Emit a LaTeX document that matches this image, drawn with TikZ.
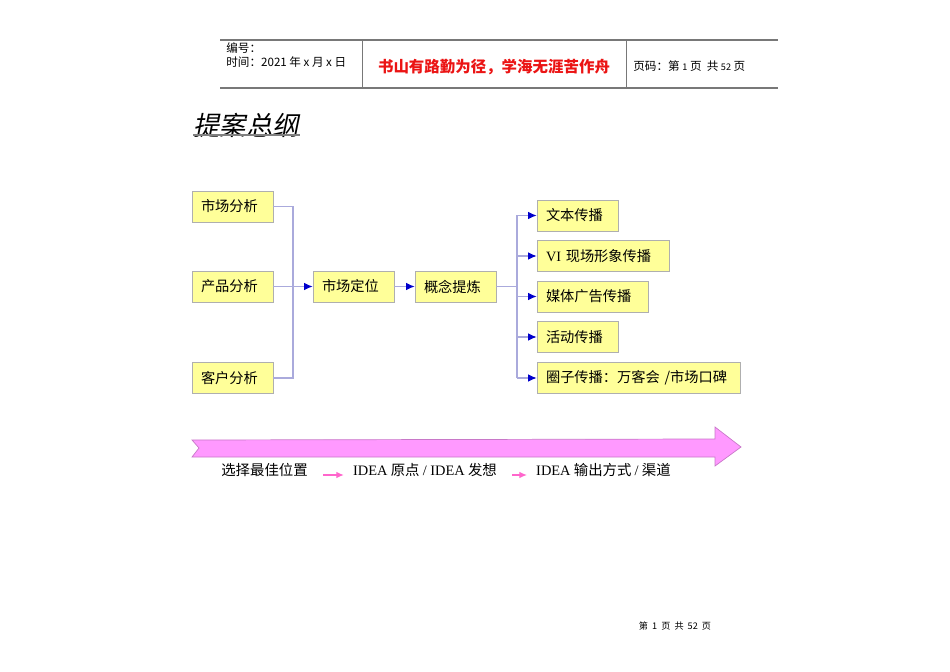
\documentclass[tikz,border=0pt]{standalone}
\usepackage{fontspec}
\setmainfont{Liberation Serif}
\newfontfamily\cjk{Noto Sans CJK SC}
\newfontfamily\cjkslant[FakeSlant=0.2]{Noto Sans CJK SC}
\usetikzlibrary{arrows.meta, calc}
\definecolor{boxyellow}{RGB}{255,255,153}
\definecolor{boxgray}{RGB}{175,175,175}
\definecolor{linklav}{RGB}{170,170,220}
\definecolor{tipblue}{RGB}{0,0,204}
\definecolor{bandpink}{RGB}{255,153,255}
\definecolor{bandedge}{RGB}{200,120,200}
\definecolor{smallpink}{RGB}{255,102,204}
\definecolor{hdrgray}{RGB}{120,120,120}
\definecolor{mottored}{RGB}{235,20,20}
\tikzset{>={Latex[length=1.7mm,width=1.5mm,color=tipblue]}}

\begin{document}
\begin{tikzpicture}[x=0.02cm, y=-0.02cm,
  box/.style={draw=boxgray, fill=boxyellow, minimum height=0.62cm, inner xsep=0.18cm,
    inner ysep=0pt, align=left, font=\cjk\fontsize{8.1pt}{10pt}\selectfont},
  link/.style={draw=linklav, line width=0.6pt},
  hdr/.style={anchor=west, inner sep=0pt, font=\cjk\fontsize{6.6pt}{8pt}\selectfont},
  flow/.style={inner sep=0pt, font=\cjk\fontsize{8.2pt}{10pt}\selectfont}]
\useasboundingbox (0,0) rectangle (950,672);

% header table
\draw[hdrgray, line width=0.7pt] (220,40) -- (778,40);
\draw[hdrgray, line width=0.7pt] (220,88) -- (778,88);
\draw[hdrgray, line width=0.4pt] (362,40) -- (362,88);
\draw[hdrgray, line width=0.4pt] (626,40) -- (626,88);
\node[hdr] (num) at (226,48) {编号：};
\node[hdr] (time) at (226,62) {时间：2021 年 x 月 x 日};
\node[font=\cjk\bfseries\fontsize{8.8pt}{10pt}\selectfont, text=mottored, inner sep=0pt] (motto) at (494,67) {书山有路勤为径，学海无涯苦作舟};
\node[hdr] (page) at (633,66) {页码：第 {\fontsize{5.2pt}{6pt}\selectfont 1} 页 \ 共 {\fontsize{5.2pt}{6pt}\selectfont 52} 页};

% title
\node[inner sep=0pt, font=\cjkslant\fontsize{15pt}{18pt}\selectfont] (title) at (246,125) {提案总纲};
\draw[gray, line width=0.6pt] (193,135) -- (300,135);

% analysis boxes
\node[box, text width=1.26cm] (ma) at (232.5,206.5) {市场分析};
\node[box, text width=1.26cm] (pa) at (232.5,286.5) {产品分析};
\node[box, text width=1.26cm] (ca) at (232.5,378) {客户分析};
\node[box, text width=1.26cm] (sd) at (353.5,286.5) {市场定位};
\node[box, text width=1.26cm] (gn) at (455.5,286.5) {概念提炼};

% channels
\node[box, text width=1.26cm] (c1) at (577.5,215.5) {文本传播};
\node[box, text width=2.28cm] (c2) at (603,256) {{\rmfamily VI} 现场形象传播};
\node[box, text width=1.86cm] (c3) at (592.5,296.5) {媒体广告传播};
\node[box, text width=1.26cm] (c4) at (577.5,337) {活动传播};
\node[box, text width=3.70cm] (c5) at (638.5,378) {圈子传播：万客会 /市场口碑};

% connectors
\coordinate (j1) at (293,286.5);
\draw[link] (ma.east) -| (j1) |- (ca.east);
\draw[link, ->] (pa.east) -- (sd.west);
\draw[link, ->] (sd.east) -- (gn.west);
\coordinate (j2) at (517,286.5);
\draw[link] (gn.east) -- (j2);
\draw[link] (j2 |- c1.west) -- (j2 |- c5.west);
\foreach \c in {c1,c2,c3,c4,c5}
  \draw[link, ->] (j2 |- \c.west) -- (\c.west);

% process band
\draw[fill=bandpink, draw=bandedge, line width=0.4pt]
  (192,440) -- (715,439) -- (715,427) -- (741,447) -- (715,466)
  -- (715,457) -- (192,457) -- (199,448) -- cycle;
\node[flow] (s1) at (264.5,470) {选择最佳位置};
\node[flow] (s2) at (425,470) {{\rmfamily IDEA} 原点 {\rmfamily / IDEA} 发想};
\node[flow] (s3) at (603.5,470) {{\rmfamily IDEA} 输出方式 {\rmfamily /} 渠道};
\foreach \a/\b in {s1/s2, s2/s3}
  \draw[smallpink, line width=0.6pt, -{Latex[length=1.5mm,width=1.3mm,color=smallpink]},
    shorten <=0.3cm, shorten >=0.18cm] ([yshift=-0.1cm]\a.east) -- ([yshift=-0.1cm]\b.west);

% footer
\node[inner sep=0pt, font=\cjk\fontsize{5.2pt}{6pt}\selectfont] (foot) at (675,626) {第 \ 1 \ 页 \ 共 \ 52 \ 页};
\end{tikzpicture}
\end{document}
